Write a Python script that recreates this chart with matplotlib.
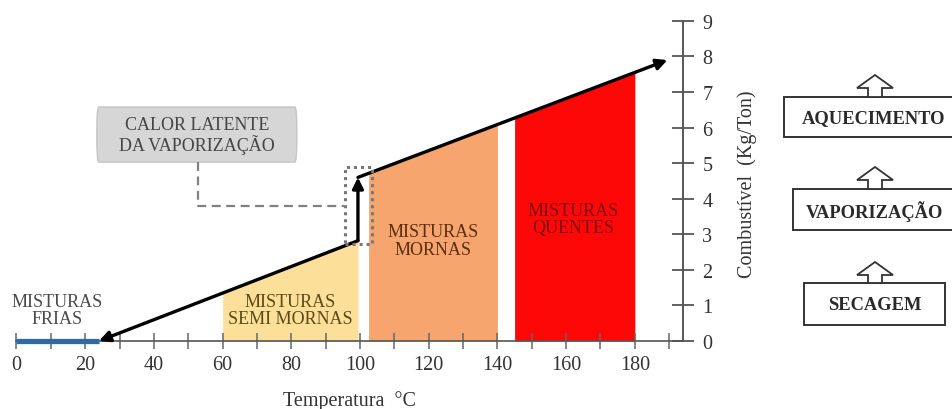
import numpy as np
import matplotlib
matplotlib.use("Agg")
import matplotlib.pyplot as plt
from matplotlib.patches import Rectangle, Polygon, FancyBboxPatch

plt.rcParams['font.family'] = ['Liberation Serif', 'DejaVu Serif']

# --- data ---
x_ticks = [0, 20, 40, 60, 80, 100, 120, 140, 160, 180]
y_ticks = [0, 1, 2, 3, 4, 5, 6, 7, 8, 9]

cold_x = [0, 24]                      # blue band "misturas frias"
lower_x = [24, 99.4]                  # heating line before vaporization
lower_y = [0, 2.82]
jump_x = [99.4, 99.4]                 # latent heat step
jump_y = [2.82, 4.6]
upper_x = [99.4, 189.5]               # heating line after vaporization
upper_y = [4.6, 7.9]

zone_names = ["MISTURAS\nSEMI MORNAS", "MISTURAS\nMORNAS", "MISTURAS\nQUENTES"]
zone_x = [[60, 99.4], [102.5, 140], [145, 180]]
zone_top = [[1.35, 2.82], [4.71, 6.09], [6.27, 7.58]]
zone_colors = ["#fce09a", "#f6a56f", "#fe0707"]
zone_text_colors = ["#5c4a16", "#5a2e0e", "#7a0a0a"]
zone_label_pos = [(79.6, 0.87), (121.2, 2.82), (162, 3.43)]

stages = ["AQUECIMENTO", "VAPORIZAÇÃO", "SECAGEM"]

fig = plt.figure(figsize=(9.53, 4.10), dpi=100)
ax = fig.add_axes([0, 0.1659, 0.7166, 0.8153])
ax.set_xlim(-4.8, 194)
ax.set_ylim(0, 9.4)

# zones
for xs, tops, col in zip(zone_x, zone_top, zone_colors):
    ax.fill_between(xs, 0, tops, color=col, linewidth=0, zorder=1)
for name, (tx, ty), tc in zip(zone_names, zone_label_pos, zone_text_colors):
    ax.text(tx, ty, name, ha='center', va='center', fontsize=13,
            color=tc, linespacing=1.05, zorder=3)

ax.text(11.7, 0.87, "MISTURAS\nFRIAS", ha='center', va='center',
        fontsize=13, color='#4a4a4a', linespacing=1.05, zorder=3)

# blue cold band
ax.plot(cold_x, [0, 0], color='#2f6aa0', lw=3.8, solid_capstyle='butt',
        zorder=4, clip_on=False)

# heating path with arrows
arrow_kw = dict(arrowstyle='-|>', lw=2.4, color='black', mutation_scale=16,
                shrinkA=0, shrinkB=0)
ax.annotate('', xy=(lower_x[0], lower_y[0]), xytext=(lower_x[1], lower_y[1]),
            arrowprops=arrow_kw, zorder=5)
ax.annotate('', xy=(jump_x[1], jump_y[1]), xytext=(jump_x[0], jump_y[0]),
            arrowprops=arrow_kw, zorder=5)
ax.annotate('', xy=(upper_x[1], upper_y[1]), xytext=(upper_x[0], upper_y[0]),
            arrowprops=arrow_kw, zorder=5)

# dotted box around the latent heat jump
ax.add_patch(Rectangle((95.6, 2.73), 8.0, 2.16, fill=False, ls=(0, (1, 1.3)),
                       lw=2.2, edgecolor='#777777', zorder=6))

# callout
ax.add_patch(FancyBboxPatch((23.4, 5.03), 58.2, 1.55,
                            boxstyle='round,pad=0,rounding_size=0.6',
                            facecolor='#d6d6d6', edgecolor='#c4c4c4', lw=1, zorder=3))
ax.text(52.5, 5.8, "CALOR LATENTE\nDA VAPORIZAÇÃO", ha='center', va='center',
        fontsize=13, color='#454545', linespacing=1.05, zorder=4)
ax.plot([52.8, 52.8, 95.3], [5.03, 3.8, 3.8], ls=(0, (4, 2.5)), lw=1.6,
        color='#808080', zorder=3)

# axes styling
for s in ['top', 'left']:
    ax.spines[s].set_visible(False)
ax.spines['bottom'].set_bounds(0, 194)
ax.spines['right'].set_bounds(0, 9)
ax.spines['bottom'].set_color('#555555')
ax.spines['right'].set_color('#555555')
ax.spines['bottom'].set_linewidth(1.2)
ax.spines['right'].set_linewidth(1.4)

ax.set_xticks(x_ticks)
ax.set_xticks(np.arange(10, 191, 20), minor=True)
ax.tick_params(axis='x', which='both', direction='inout', length=12, width=1.1,
               color='#666666', pad=4, labelsize=14.5, labelcolor='#333333')
ax.yaxis.tick_right()
ax.set_yticks(y_ticks)
ax.tick_params(axis='y', which='major', direction='inout', length=16, width=1.3,
               color='#555555', pad=6, labelsize=14.5, labelcolor='#333333')

ax.text(0.5125, -0.1765, "Temperatura  °C", transform=ax.transAxes,
        ha='center', va='center', fontsize=14.5, color='#333333')
ax.set_ylabel("Combustível  (Kg/Ton)", fontsize=14.5, color='#333333')
ax.yaxis.set_label_position('right')
ax.yaxis.label.set_va('center')
ax.yaxis.label.set_ha('center')
ax.yaxis.set_label_coords(1.094, 0.473)

# process stages on the right (pixel overlay)
ov = fig.add_axes([0, 0, 1, 1], facecolor='none')
ov.set_xlim(0, 953)
ov.set_ylim(410, 0)
ov.axis('off')
box_x0 = [784, 793, 804]
box_x1 = [953, 953, 945]
box_y0 = [98, 190, 284]
box_y1 = [138, 231, 326]
arrow_tip = [76, 168, 263]
text_cx = [874, 874, 875]
cx = 875
for name, x0, x1, y0, y1, tip, tcx in zip(stages, box_x0, box_x1, box_y0,
                                           box_y1, arrow_tip, text_cx):
    ov.add_patch(Rectangle((x0, y0), x1 - x0, y1 - y0, facecolor='white',
                           edgecolor='#333333', lw=1.4, clip_on=False))
    ov.text(tcx, (y0 + y1) / 2 + 1, name, ha='center',
            va='center', fontsize=13.3, fontweight='bold', color='#2a2a2a')
    hb = tip + 13
    pts = [(cx, tip), (cx + 18, hb), (cx + 7, hb), (cx + 7, y0),
           (cx - 7, y0), (cx - 7, hb), (cx - 18, hb)]
    ov.add_patch(Polygon(pts, closed=True, facecolor='white',
                         edgecolor='#333333', lw=1.3))

fig.savefig("out.png", dpi=100)
